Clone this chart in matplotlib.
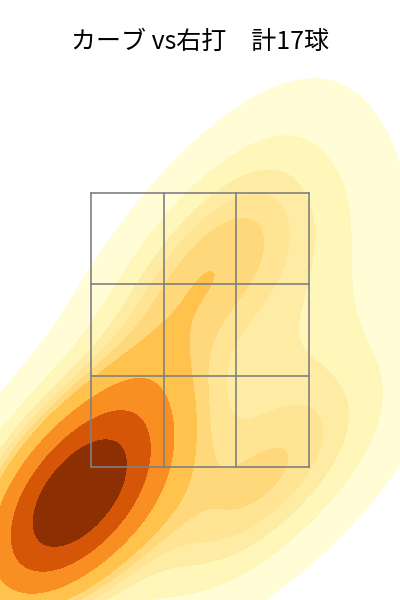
import matplotlib
matplotlib.use("Agg")
import matplotlib.pyplot as plt
import seaborn as sns
import pandas as pd

# 投球位置 (横: 捕手視点 ft, 縦: ft)
plate_x = [-1.05, -0.95, -1.12, -0.88, -1.00, -0.85, -1.10, -0.80,
           -0.20, -0.05,
           0.40, 0.75,
           1.05, 0.45, 0.10, 0.75,
           -0.65]
plate_z = [1.25, 1.10, 1.38, 1.28, 1.00, 1.45, 1.52, 1.12,
           2.85, 2.72,
           3.55, 3.10,
           1.75, 1.30, 1.10, 2.35,
           1.55]

# ストライクゾーン
zone_left, zone_right = -0.83, 0.83
zone_bottom, zone_top = 1.5, 3.5

title = "カーブ vs右打　計17球"

plt.rcParams["font.family"] = ["Noto Sans CJK JP", "DejaVu Sans"]

df = pd.DataFrame({"x": plate_x, "z": plate_z})

fig = plt.figure(figsize=(4, 6), dpi=100)
ax = fig.add_axes([0, 0, 1, 1])

sns.kdeplot(data=df, x="x", y="z", fill=True, cmap="YlOrBr", levels=10,
            bw_adjust=1.1, ax=ax)

# 3x3 グリッド
xs = [zone_left + (zone_right - zone_left) * i / 3 for i in range(4)]
zs = [zone_bottom + (zone_top - zone_bottom) * i / 3 for i in range(4)]
for x in xs:
    ax.plot([x, x], [zone_bottom, zone_top], color="gray", lw=1.2)
for z in zs:
    ax.plot([zone_left, zone_right], [z, z], color="gray", lw=1.2)

ax.set_xlim(-1.52, 1.52)
ax.set_ylim(0.53, 4.91)
ax.axis("off")

fig.text(0.5, 0.93, title, ha="center", va="center", fontsize=18)

plt.savefig("out.png", dpi=100)
